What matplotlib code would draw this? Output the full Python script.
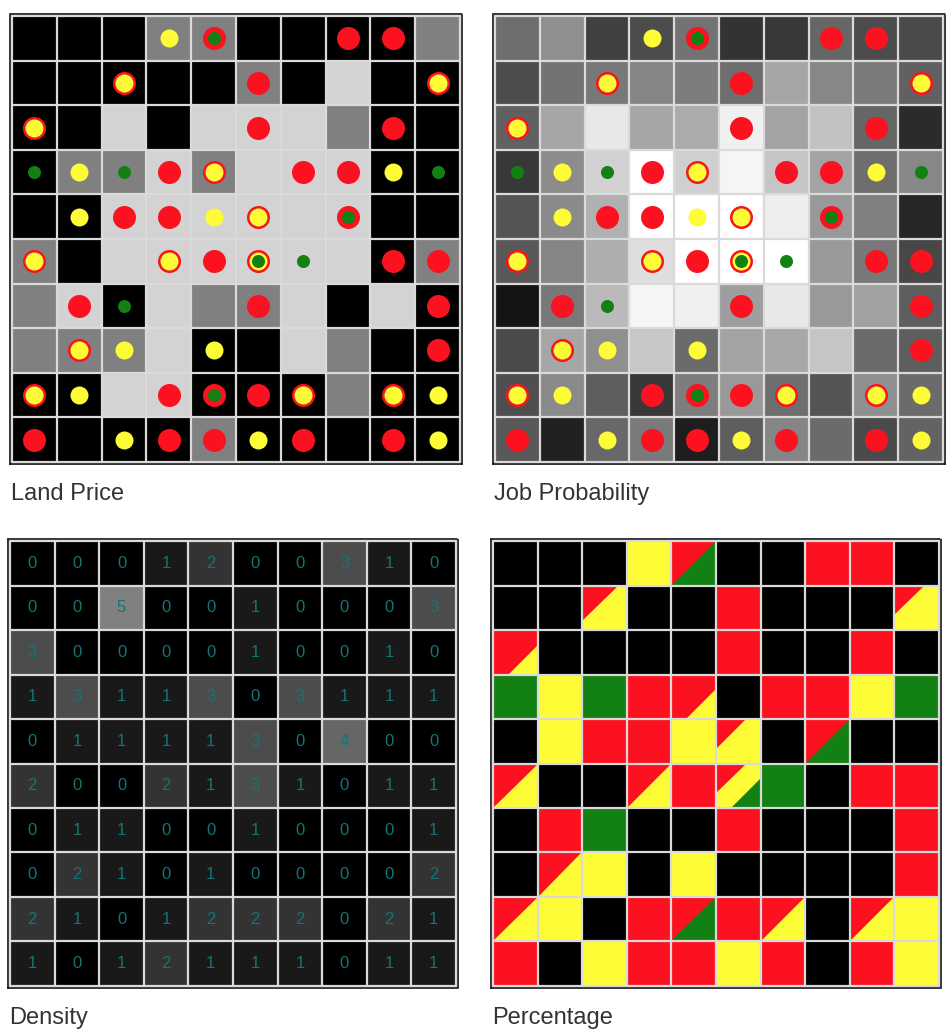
import numpy as np
import matplotlib
matplotlib.use('Agg')
import matplotlib.pyplot as plt
from matplotlib.colors import ListedColormap
from matplotlib.patches import Polygon

# agents per cell, by type (rows top -> bottom)
red_count = np.array([
    [0, 0, 0, 0, 1, 0, 0, 3, 1, 0],
    [0, 0, 2, 0, 0, 1, 0, 0, 0, 1],
    [2, 0, 0, 0, 0, 1, 0, 0, 1, 0],
    [0, 0, 0, 1, 2, 0, 3, 1, 0, 0],
    [0, 0, 1, 1, 0, 1, 0, 2, 0, 0],
    [1, 0, 0, 1, 1, 1, 0, 0, 1, 1],
    [0, 1, 0, 0, 0, 1, 0, 0, 0, 1],
    [0, 1, 0, 0, 0, 0, 0, 0, 0, 2],
    [1, 0, 0, 1, 1, 2, 1, 0, 1, 0],
    [1, 0, 0, 2, 1, 0, 1, 0, 1, 0],
])
yellow_count = np.array([
    [0, 0, 0, 1, 0, 0, 0, 0, 0, 0],
    [0, 0, 3, 0, 0, 0, 0, 0, 0, 2],
    [1, 0, 0, 0, 0, 0, 0, 0, 0, 0],
    [0, 3, 0, 0, 1, 0, 0, 0, 1, 0],
    [0, 1, 0, 0, 1, 2, 0, 0, 0, 0],
    [1, 0, 0, 1, 0, 1, 0, 0, 0, 0],
    [0, 0, 0, 0, 0, 0, 0, 0, 0, 0],
    [0, 1, 1, 0, 1, 0, 0, 0, 0, 0],
    [1, 1, 0, 0, 0, 0, 1, 0, 1, 1],
    [0, 0, 1, 0, 0, 1, 0, 0, 0, 1],
])
green_count = np.array([
    [0, 0, 0, 0, 1, 0, 0, 0, 0, 0],
    [0, 0, 0, 0, 0, 0, 0, 0, 0, 0],
    [0, 0, 0, 0, 0, 0, 0, 0, 0, 0],
    [1, 0, 1, 0, 0, 0, 0, 0, 0, 1],
    [0, 0, 0, 0, 0, 0, 0, 2, 0, 0],
    [0, 0, 0, 0, 0, 1, 1, 0, 0, 0],
    [0, 0, 1, 0, 0, 0, 0, 0, 0, 0],
    [0, 0, 0, 0, 0, 0, 0, 0, 0, 0],
    [0, 0, 0, 0, 1, 0, 0, 0, 0, 0],
    [0, 0, 0, 0, 0, 0, 0, 0, 0, 0],
])

# land price level: 0 low, 1 mid, 2 high
land_price = np.array([
    [0, 0, 0, 1, 1, 0, 0, 0, 0, 1],
    [0, 0, 0, 0, 0, 1, 0, 2, 0, 0],
    [0, 0, 2, 0, 2, 2, 2, 1, 0, 0],
    [0, 1, 1, 2, 1, 2, 2, 2, 0, 0],
    [0, 0, 2, 2, 2, 2, 2, 2, 0, 0],
    [1, 0, 2, 2, 2, 2, 2, 2, 0, 1],
    [1, 2, 0, 2, 1, 1, 2, 0, 2, 0],
    [1, 1, 1, 2, 0, 0, 2, 1, 0, 0],
    [0, 0, 2, 2, 0, 0, 0, 1, 0, 0],
    [0, 0, 0, 0, 1, 0, 0, 0, 0, 0],
])

job_prob = np.array([
    [.43, .56, .25, .30, .45, .20, .22, .40, .30, .29],
    [.30, .45, .47, .52, .49, .43, .65, .53, .48, .38],
    [.38, .65, .91, .65, .67, .94, .64, .76, .40, .17],
    [.22, .55, .82, 1.0, .81, .96, .77, .64, .43, .53],
    [.33, .54, .69, 1.0, 1.0, 1.0, .93, .60, .50, .15],
    [.35, .52, .68, .87, 1.0, 1.0, 1.0, .60, .47, .28],
    [.08, .47, .73, .96, .94, .62, .91, .60, .63, .37],
    [.29, .65, .56, .78, .42, .64, .66, .77, .42, .37],
    [.31, .54, .37, .22, .49, .60, .43, .33, .56, .42],
    [.35, .13, .41, .48, .12, .37, .52, .42, .29, .39],
])

titles = ['Land Price', 'Job Probability', 'Density', 'Percentage']

density = red_count + yellow_count + green_count
n = 10
W, H = 952, 1036

RED = '#fb111f'
YELLOW = '#fefc36'
GREEN = '#128012'
LINE = '#dadada'

fig = plt.figure(figsize=(W / 100, H / 100), dpi=100)

boxes = [(10, 14, 462, 464), (493, 14, 945, 464), (8, 539, 458, 988), (491, 539, 941, 988)]
label_pos = [(11, 500), (494, 500), (9, 1024), (492, 1024)]


def make_ax(box):
    x0, y0, x1, y1 = box
    ax = fig.add_axes([x0 / W, 1 - y1 / H, (x1 - x0) / W, (y1 - y0) / H])
    ax.set_facecolor(LINE)
    pad = 0.045
    ax.set_xlim(-pad, n + pad)
    ax.set_ylim(n + pad, -pad)
    ax.set_xticks([])
    ax.set_yticks([])
    for s in ax.spines.values():
        s.set_linestyle((0, (1, 1)))
        s.set_linewidth(1.2)
        s.set_color('#111111')
    return ax


def grid_lines(ax):
    ax.hlines(np.arange(n + 1), 0, n, color=LINE, lw=1.6, zorder=3)
    ax.vlines(np.arange(n + 1), 0, n, color=LINE, lw=1.6, zorder=3)


def agents(ax):
    rows, cols = np.nonzero(red_count)
    ax.scatter(cols + 0.5, rows + 0.5, s=274, c=RED, lw=0, zorder=4)
    rows, cols = np.nonzero(yellow_count)
    ax.scatter(cols + 0.5, rows + 0.5, s=168, c=YELLOW, lw=0, zorder=5)
    rows, cols = np.nonzero(green_count)
    ax.scatter(cols + 0.5, rows + 0.5, s=88, c=GREEN, lw=0, zorder=6)


edges = np.arange(n + 1)

# Land Price
ax = make_ax(boxes[0])
ax.pcolormesh(edges, edges, land_price, cmap=ListedColormap(['#000000', '#808080', '#d3d3d3']),
              vmin=-0.5, vmax=2.5)
grid_lines(ax)
agents(ax)

# Job Probability
ax = make_ax(boxes[1])
ax.pcolormesh(edges, edges, job_prob, cmap='gray', vmin=0, vmax=1)
grid_lines(ax)
agents(ax)

# Density
ax = make_ax(boxes[2])
ax.pcolormesh(edges, edges, density, cmap='gray', vmin=0, vmax=10)
grid_lines(ax)
for i in range(n):
    for j in range(n):
        ax.text(j + 0.5, i + 0.5, str(density[i, j]), ha='center', va='center',
                fontsize=12, color='#137575', family='Liberation Sans', zorder=4)


# Percentage
def band(j, i, s):
    # part of cell (j, i) beyond fraction s along the diagonal
    d = 2 * s
    if d <= 1:
        pts = [(d, 0), (1, 0), (1, 1), (0, 1), (0, d)]
    else:
        pts = [(1, d - 1), (1, 1), (d - 1, 1)]
    return [(j + u, i + v) for u, v in pts]


ax = make_ax(boxes[3])
ax.pcolormesh(edges, edges, np.zeros((n, n)), cmap=ListedColormap(['#000000']))
for i in range(n):
    for j in range(n):
        tot = density[i, j]
        if tot == 0:
            continue
        start = 0
        for cnt, col in [(red_count[i, j], RED), (yellow_count[i, j], YELLOW), (green_count[i, j], GREEN)]:
            if cnt > 0:
                ax.add_patch(Polygon(band(j, i, start / tot), closed=True, fc=col, ec='none', zorder=2))
                start += cnt
grid_lines(ax)

for (x, y), t in zip(label_pos, titles):
    fig.text(x / W, 1 - y / H, t, fontsize=17, color='#333333', family='Liberation Sans', va='baseline')

fig.savefig('out.png', dpi=100)
